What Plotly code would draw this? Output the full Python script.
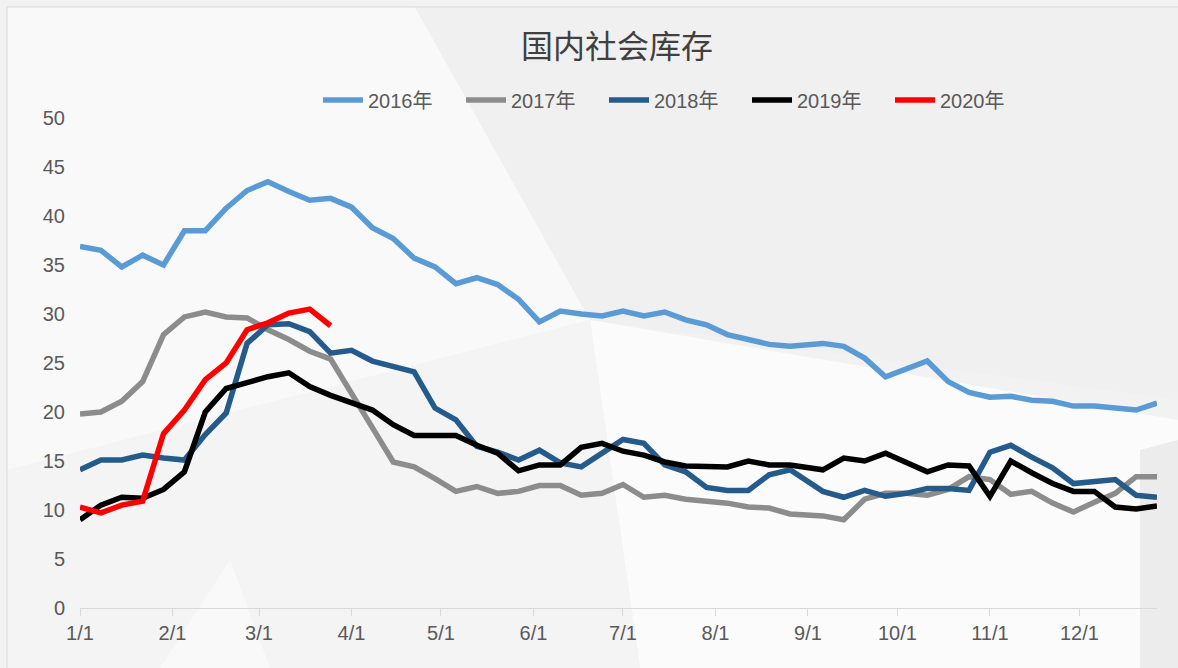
import plotly.graph_objects as go

# ---------------- data ----------------
dates = [
    "2016-01-01", "2016-01-08", "2016-01-15", "2016-01-22", "2016-01-29",
    "2016-02-05", "2016-02-12", "2016-02-19", "2016-02-26", "2016-03-04",
    "2016-03-11", "2016-03-18", "2016-03-25", "2016-04-01", "2016-04-08",
    "2016-04-15", "2016-04-22", "2016-04-29", "2016-05-06", "2016-05-13",
    "2016-05-20", "2016-05-27", "2016-06-03", "2016-06-10", "2016-06-17",
    "2016-06-24", "2016-07-01", "2016-07-08", "2016-07-15", "2016-07-22",
    "2016-07-29", "2016-08-05", "2016-08-12", "2016-08-19", "2016-08-26",
    "2016-09-06", "2016-09-13", "2016-09-20", "2016-09-27", "2016-10-04",
    "2016-10-11", "2016-10-18", "2016-10-25", "2016-11-01", "2016-11-08",
    "2016-11-15", "2016-11-22", "2016-11-29", "2016-12-06", "2016-12-13",
    "2016-12-20", "2016-12-27",
]

y2016 = [36.9, 36.5, 34.8, 36.0, 35.0, 38.5, 38.5, 40.8, 42.6, 43.5,
         42.5, 41.6, 41.8, 40.9, 38.8, 37.7, 35.7, 34.8, 33.1, 33.7,
         33.0, 31.5, 29.2, 30.3, 30.0, 29.8, 30.3, 29.8, 30.2, 29.4,
         28.9, 27.9, 27.4, 26.9, 26.7, 27.0, 26.7, 25.5, 23.6, 24.4,
         25.2, 23.1, 22.0, 21.5, 21.6, 21.2, 21.1, 20.6, 20.6, 20.4,
         20.2, 20.9]
y2017 = [19.8, 20.0, 21.1, 23.1, 27.9, 29.7, 30.2, 29.7, 29.6, 28.4,
         27.4, 26.2, 25.4, 22.0, 18.4, 14.9, 14.4, 13.2, 11.9, 12.4,
         11.7, 11.9, 12.5, 12.5, 11.5, 11.7, 12.6, 11.3, 11.5, 11.1,
         10.9, 10.7, 10.3, 10.2, 9.6, 9.4, 9.0, 11.1, 11.7, 11.7,
         11.5, 12.1, 13.4, 13.1, 11.6, 11.9, 10.7, 9.8, 10.8, 11.7,
         13.4, 13.4]
y2018 = [14.1, 15.1, 15.1, 15.6, 15.3, 15.1, 17.7, 19.9, 27.0, 28.9,
         29.0, 28.2, 26.0, 26.3, 25.2, 24.6, 24.1, 20.4, 19.2, 16.5,
         15.9, 15.1, 16.1, 14.8, 14.4, 15.8, 17.2, 16.8, 14.6, 13.9,
         12.3, 12.0, 12.0, 13.6, 14.1, 11.9, 11.3, 12.0, 11.4, 11.7,
         12.2, 12.2, 12.0, 15.9, 16.6, 15.4, 14.3, 12.7, 12.9, 13.1,
         11.5, 11.3]
y2019 = [9.0, 10.5, 11.3, 11.2, 12.1, 13.9, 20.0, 22.4, 23.0, 23.6,
         24.0, 22.6, 21.7, 21.0, 20.2, 18.7, 17.6, 17.6, 17.6, 16.6,
         15.8, 14.0, 14.6, 14.6, 16.4, 16.8, 16.0, 15.6, 14.9, 14.5,
         14.4, 14.4, 15.0, 14.6, 14.6, 14.1, 15.3, 15.0, 15.8, 14.8,
         13.9, 14.6, 14.5, 11.4, 15.0, 13.8, 12.7, 11.9, 11.9, 10.3,
         10.1, 10.4]
y2020 = [10.3, 9.7, 10.5, 10.9, 17.8, 20.2, 23.3, 25.0, 28.4, 29.1,
         30.1, 30.5, 28.8]

series_names = ["2016年", "2017年", "2018年", "2019年", "2020年"]
series_values = [y2016, y2017, y2018, y2019, y2020]

tick_dates = ["2016-01-01", "2016-02-01", "2016-03-01", "2016-04-01",
              "2016-05-01", "2016-06-01", "2016-07-01", "2016-08-01",
              "2016-09-01", "2016-10-01", "2016-11-01", "2016-12-01"]
tick_labels = ["1/1", "2/1", "3/1", "4/1", "5/1", "6/1", "7/1", "8/1",
               "9/1", "10/1", "11/1", "12/1"]
y_ticks = [0, 5, 10, 15, 20, 25, 30, 35, 40, 45, 50]

title_text = "国内社会库存"

# ---------------- style ----------------
colors = ["#5B9BD5", "#8C8C8C", "#255B8A", "#000000", "#FF0000"]
W, H = 1178, 668
L, R, T, B = 80, 21, 118, 60
PW, PH = W - L - R, H - T - B

TXT = "Liberation Sans, Noto Sans CJK SC, sans-serif"


def px(x):
    return (x - L) / PW


def py(y):
    return (H - B - y) / PH


def poly(points, color):
    d = "M " + " L ".join(f"{px(a):.4f},{py(b):.4f}" for a, b in points) + " Z"
    return dict(type="path", xref="paper", yref="paper", path=d,
                fillcolor=color, line=dict(width=0), layer="below")


fig = go.Figure()
for name, vals, col in zip(series_names, series_values, colors):
    fig.add_trace(go.Scatter(
        x=dates[:len(vals)], y=vals, name=name, mode="lines",
        line=dict(color=col, width=5.5), hoverinfo="x+y+name",
    ))

shapes = [
    poly([(7, 7), (415, 7), (590, 320), (7, 470)], "#f9f9f9"),
    poly([(415, 7), (1178, 7), (1178, 400), (590, 320)], "#f0f0f0"),
    poly([(590, 320), (1178, 420), (1178, 668), (640, 668)], "#fbfbfb"),
    poly([(7, 470), (590, 320), (640, 668), (7, 668)], "#f4f4f4"),
    poly([(160, 668), (230, 560), (270, 668)], "#f9f9f9"),
    poly([(1140, 450), (1178, 440), (1178, 668), (1140, 668)], "#ececec"),
    dict(type="rect", xref="paper", yref="paper",
         x0=px(7), y0=py(7), x1=px(1190), y1=py(680),
         line=dict(color="#d9d9d9", width=1), fillcolor="rgba(0,0,0,0)",
         layer="below"),
]

fig.update_layout(
    width=W, height=H, autosize=False,
    margin=dict(l=L, r=R, t=T, b=B, autoexpand=False),
    paper_bgcolor="#f2f2f2",
    plot_bgcolor="rgba(0,0,0,0)",
    shapes=shapes,
    title=dict(text=title_text, x=617 / W, xanchor="center",
               y=1 - 47 / H, yanchor="middle",
               font=dict(family="Noto Sans CJK SC", size=32, color="#404040")),
    legend=dict(orientation="h", x=px(318), xanchor="left",
                y=py(100), yanchor="middle",
                font=dict(family=TXT, size=20, color="#595959"),
                bgcolor="rgba(0,0,0,0)",
                entrywidth=88, entrywidthmode="pixels",
                itemwidth=40, tracegroupgap=0),
    xaxis=dict(
        type="date", range=[dates[0], dates[-1]],
        tickmode="array", tickvals=tick_dates, ticktext=tick_labels,
        showgrid=False, zeroline=False,
        showline=True, linecolor="#d9d9d9", linewidth=1,
        ticks="outside", ticklen=7, tickcolor="#d9d9d9",
        tickfont=dict(family=TXT, size=20, color="#595959"),
    ),
    yaxis=dict(
        range=[0, 50], tickmode="array", tickvals=y_ticks,
        showgrid=False, zeroline=False, showline=False,
        ticks="", ticklabelstandoff=14,
        tickfont=dict(family=TXT, size=20, color="#595959"),
    ),
    hovermode="closest",
)

fig.write_html("out.html",
               config={"displayModeBar": False},
               post_script="document.body.style.margin='0';"
                           "document.body.style.overflow='hidden';")
